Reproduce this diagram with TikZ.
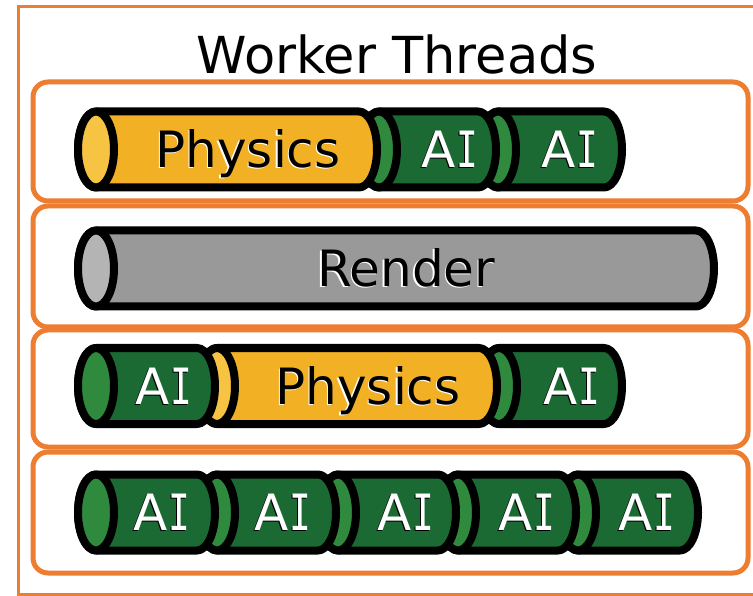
\documentclass[tikz,border=0pt]{standalone}
\usepackage{fontspec}
\setmainfont{DejaVu Sans}
\newfontfamily\serifI{DejaVu Sans Mono}
\definecolor{frameorange}{HTML}{ED7D31}
\definecolor{physbody}{HTML}{F2B124}
\definecolor{physface}{HTML}{F6C342}
\definecolor{aibody}{HTML}{1B6A33}
\definecolor{aiface}{HTML}{2F8A3D}
\definecolor{rendbody}{HTML}{999999}
\definecolor{rendface}{HTML}{B4B4B4}

% one cylinder segment: face centre x, cap centre x, centre y, body colour, face colour
\newcommand\cylseg[5]{%
  \draw[cyl, fill=#4] (#1,#3-38) -- (#2,#3-38)
    arc[start angle=-90, end angle=90, x radius=18, y radius=38]
    -- (#1,#3+38)
    arc[start angle=90, end angle=270, x radius=18, y radius=38] -- cycle;
  \draw[cyl, fill=#5] (#1,#3) ellipse[x radius=18, y radius=38];
}
% text with a thin offset copy in a contrasting colour
\newcommand\embossed[2]{\makebox[0pt][l]{\hspace{-1.4pt}\raisebox{-1.4pt}{\color{#1}#2}}#2}
% "AI" with a serifed capital I
\newcommand\aitext{A\kern1pt{\serifI\scalebox{0.72}[1]{I}}}

\begin{document}
\begin{tikzpicture}[x=1pt, y=-1pt,
  cyl/.style={draw=black, line width=8pt, line join=round},
  rowbox/.style={draw=frameorange, line width=5pt, rounded corners=15pt},
  darklabel/.style={anchor=base, text=black, font=\fontsize{50}{60}\selectfont, inner sep=0pt},
  ailabel/.style={anchor=base, text=white, font=\fontsize{50}{60}\selectfont, inner sep=0pt},
  titlelabel/.style={anchor=base, text=black, font=\fontsize{51}{60}\selectfont, inner sep=0pt}]
\useasboundingbox (0,0) rectangle (753,596);
\fill[white] (0,0) rectangle (753,596);

% outer frame (right side runs off the page)
\draw[frameorange, line width=3pt] (760,7) -- (18,7) -- (18,594) -- (760,594);

\node[titlelabel] (title) at (397,74) {Worker Threads};

% thread rows
\draw[rowbox] (33,82) rectangle (748,201);
\draw[rowbox] (33,206) rectangle (748,327);
\draw[rowbox] (33,330) rectangle (748,447);
\draw[rowbox] (33,452) rectangle (748,573);

% row 1: Physics, AI, AI
\cylseg{498}{604}{149.5}{aibody}{aiface}
\cylseg{379}{478}{149.5}{aibody}{aiface}
\cylseg{96}{359}{149.5}{physbody}{physface}
\node[darklabel] (r1phys) at (248,167.5) {\embossed{white}{Physics}};
\node[ailabel] (r1ai1) at (450,167.5) {\embossed{black}{\aitext}};
\node[ailabel] (r1ai2) at (570,167.5) {\embossed{black}{\aitext}};

% row 2: Render
\cylseg{96}{696}{268.5}{rendbody}{rendface}
\node[darklabel] (r2rend) at (406,286.5) {\embossed{white}{Render}};

% row 3: AI, Physics, AI
\cylseg{499}{604}{386}{aibody}{aiface}
\cylseg{217}{479}{386}{physbody}{physface}
\cylseg{96}{197}{386}{aibody}{aiface}
\node[ailabel] (r3ai1) at (164,404) {\embossed{black}{\aitext}};
\node[darklabel] (r3phys) at (368,404) {\embossed{white}{Physics}};
\node[ailabel] (r3ai2) at (572,404) {\embossed{black}{\aitext}};

% row 4: five AI jobs
\cylseg{578}{680}{512.5}{aibody}{aiface}
\cylseg{458}{558}{512.5}{aibody}{aiface}
\cylseg{338}{438}{512.5}{aibody}{aiface}
\cylseg{217}{318}{512.5}{aibody}{aiface}
\cylseg{96}{197}{512.5}{aibody}{aiface}
\node[ailabel] (r4ai1) at (162,530.5) {\embossed{black}{\aitext}};
\node[ailabel] (r4ai2) at (283,530.5) {\embossed{black}{\aitext}};
\node[ailabel] (r4ai3) at (406,530.5) {\embossed{black}{\aitext}};
\node[ailabel] (r4ai4) at (527,530.5) {\embossed{black}{\aitext}};
\node[ailabel] (r4ai5) at (647,530.5) {\embossed{black}{\aitext}};
\end{tikzpicture}
\end{document}
